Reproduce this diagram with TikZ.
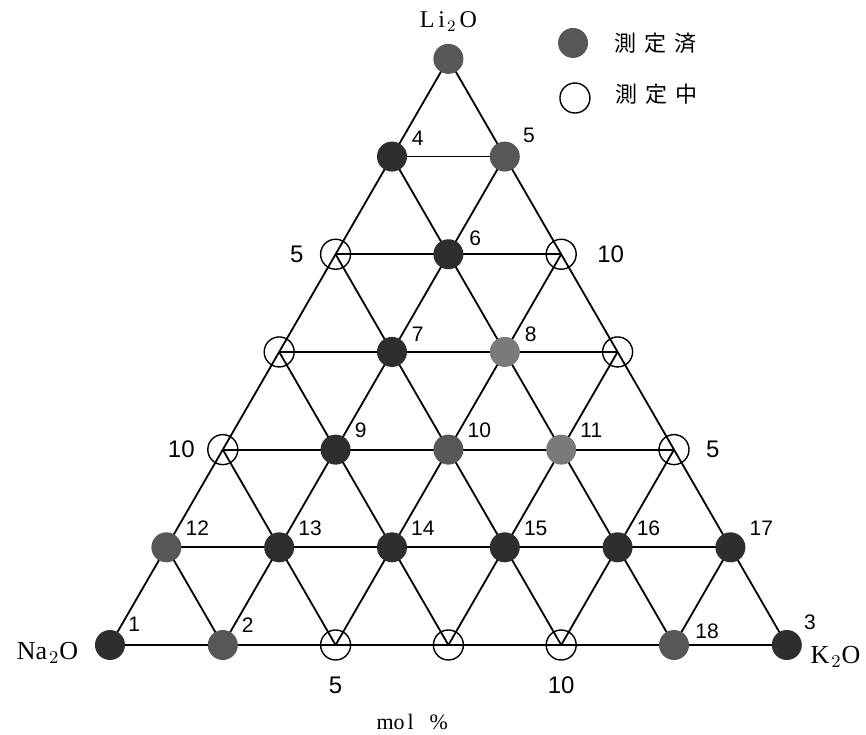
\documentclass[tikz,border=0pt]{standalone}
\usepackage{fontspec}
\setmainfont{Liberation Serif}
\newfontfamily\numfont{Liberation Sans}
\newfontfamily\jpfont{Noto Sans CJK JP}
\usetikzlibrary{positioning}

\begin{document}
\begin{tikzpicture}[
  x=56.4pt, y=56.4pt,
  grid/.style={line width=0.9pt},
  done/.style={circle, fill=black!82, minimum size=15pt, inner sep=0pt},
  half/.style={done, fill=black!66},
  light/.style={done, fill=black!52},
  todo/.style={circle, draw, line width=0.7pt, minimum size=15pt, inner sep=0pt},
  num/.style={font=\numfont\fontsize{10.5}{12}\selectfont, inner sep=1pt},
  tick/.style={font=\numfont\fontsize{12}{14}\selectfont, inner sep=1pt},
  oxide/.style={font=\fontsize{13}{15}\selectfont, inner sep=1pt},
  legend/.style={font=\jpfont\fontsize{11}{13}\selectfont, inner sep=1pt},
  label distance=2pt
]
\useasboundingbox (-0.975,-0.789) rectangle (6.702,5.718);

% grid points
\foreach \j in {0,...,6}{
  \pgfmathtruncatemacro\n{6-\j}
  \foreach \i in {0,...,\n}
    \coordinate (p-\i-\j) at ({\i+\j/2},{\j*0.866});
}

% grid lines
\foreach \j in {0,...,5}{
  \pgfmathtruncatemacro\n{6-\j}
  \draw[grid] (p-0-\j) -- (p-\n-\j);
  \draw[grid] (p-\j-0) -- (p-\j-\n);
}
\foreach \k in {1,...,6}
  \draw[grid] (p-\k-0) -- (p-0-\k);

% measured compositions
\foreach \i/\j/\s/\t/\a in {
  0/0/done/1/35, 1/0/half/2/30, 5/0/half/18/12, 6/0/done/3/40,
  0/1/half/12/30, 1/1/done/13/30, 2/1/done/14/30, 3/1/done/15/30,
  4/1/done/16/30, 5/1/done/17/30,
  1/2/done/9/30, 2/2/half/10/30, 3/2/light/11/30,
  1/3/done/7/25, 2/3/light/8/25,
  1/4/done/6/17,
  0/5/done/4/25, 1/5/half/5/35}
  \node[\s, label={[num]\a:\t}] (n-\i-\j) at (p-\i-\j) {};
\node[half] (n-0-6) at (p-0-6) {};

% compositions in progress
\foreach \i/\j in {2/0, 3/0, 4/0, 0/2, 4/2, 0/3, 3/3, 0/4, 2/4}
  \node[todo] (n-\i-\j) at (p-\i-\j) {};

% axis values
\node[tick, below=7pt of n-2-0] {5};
\node[tick, below=7pt of n-4-0] {10};
\node[tick, left=7pt of n-0-4] {5};
\node[tick, left=5pt of n-0-2] {10};
\node[tick, right=9pt of n-2-4] {10};
\node[tick, right=7pt of n-4-2] {5};

% corners
\node[oxide, above=5pt of n-0-6, font=\fontsize{12}{14}\selectfont] (li) {L\kern2pt i\kern1pt$_2$\kern1.5pt O};
\node[oxide, left=7pt of n-0-0, yshift=-4pt] (na) {Na\kern1pt$_2$O};
\node[oxide, right=3pt of n-6-0, yshift=-6pt] (k) {K\kern1pt$_2$O};
\node[oxide, font=\fontsize{11}{13}\selectfont] (unit) at (2.68,-0.68) {mo\kern1.5pt l\kern8pt\%};

% legend
\node[half] (key1) at (4.105,5.337) {};
\node[todo] (key2) at (4.122,4.849) {};
\node[legend, right=12pt of key1] {測\kern4pt 定\kern4pt 済};
\node[legend, right=11pt of key2, yshift=2pt] {測\kern4pt 定\kern4pt 中};
\end{tikzpicture}
\end{document}
